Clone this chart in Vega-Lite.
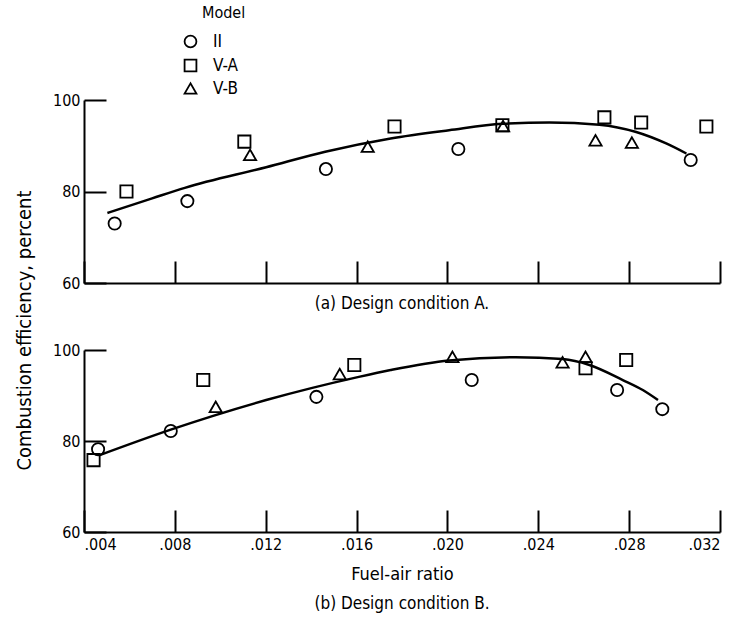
{
  "$schema": "https://vega.github.io/schema/vega-lite/v6.json",
  "padding": {"left": 14, "top": 5, "right": 5, "bottom": 5},
  "bounds": "flush",
  "spacing": 67,
  "background": "white",
  "config": {
    "font": "Liberation Sans Narrow, DejaVu Sans Condensed, Open Sans, sans-serif",
    "view": {"stroke": null},
    "axis": {
      "grid": false,
      "domainColor": "black",
      "domainWidth": 2,
      "tickColor": "black",
      "tickWidth": 2,
      "tickSize": -22,
      "labelPadding": 26,
      "labelColor": "black",
      "labelFontSize": 16,
      "titleColor": "black",
      "titleFontSize": 18,
      "titleFontWeight": "normal"
    },
    "title": {"fontSize": 17, "fontWeight": "normal", "color": "black", "anchor": "middle", "orient": "bottom"},
    "legend": {"labelFontSize": 17, "titleFontSize": 16, "titleFontWeight": "normal", "labelColor": "black", "titleColor": "black"}
  },
  "datasets": {
    "curveA": [
      {"x": 0.00503, "y": 75.3},
      {"x": 0.0070, "y": 78.5},
      {"x": 0.00844, "y": 80.8},
      {"x": 0.01202, "y": 85.3},
      {"x": 0.01462, "y": 88.7},
      {"x": 0.0175, "y": 91.6},
      {"x": 0.02007, "y": 93.4},
      {"x": 0.02242, "y": 94.8},
      {"x": 0.02449, "y": 95.1},
      {"x": 0.02669, "y": 94.6},
      {"x": 0.02831, "y": 93.0},
      {"x": 0.02963, "y": 90.5},
      {"x": 0.03052, "y": 88.3}
    ],
    "pointsA": [
      {"x": 0.00535, "y": 73.0, "model": "II"},
      {"x": 0.00587, "y": 80.0, "model": "V-A"},
      {"x": 0.00855, "y": 77.9, "model": "II"},
      {"x": 0.01106, "y": 90.9, "model": "V-A"},
      {"x": 0.01131, "y": 88.0, "model": "V-B"},
      {"x": 0.01465, "y": 84.9, "model": "II"},
      {"x": 0.01649, "y": 89.8, "model": "V-B"},
      {"x": 0.01767, "y": 94.2, "model": "V-A"},
      {"x": 0.02048, "y": 89.3, "model": "II"},
      {"x": 0.02242, "y": 94.5, "model": "V-A"},
      {"x": 0.02245, "y": 94.3, "model": "V-B"},
      {"x": 0.02691, "y": 96.2, "model": "V-A"},
      {"x": 0.02652, "y": 91.2, "model": "V-B"},
      {"x": 0.02853, "y": 95.1, "model": "V-A"},
      {"x": 0.02812, "y": 90.7, "model": "V-B"},
      {"x": 0.03071, "y": 86.9, "model": "II"},
      {"x": 0.03140, "y": 94.2, "model": "V-A"}
    ],
    "curveB": [
      {"x": 0.00469, "y": 76.9},
      {"x": 0.00782, "y": 82.5},
      {"x": 0.01202, "y": 89.0},
      {"x": 0.01610, "y": 94.1},
      {"x": 0.0175, "y": 95.6},
      {"x": 0.02007, "y": 97.7},
      {"x": 0.02301, "y": 98.4},
      {"x": 0.02507, "y": 98.0},
      {"x": 0.02625, "y": 96.7},
      {"x": 0.02772, "y": 93.4},
      {"x": 0.02860, "y": 91.2},
      {"x": 0.02927, "y": 89.0}
    ],
    "pointsB": [
      {"x": 0.00442, "y": 75.8, "model": "V-A"},
      {"x": 0.00462, "y": 78.2, "model": "II"},
      {"x": 0.00782, "y": 82.2, "model": "II"},
      {"x": 0.00925, "y": 93.4, "model": "V-A"},
      {"x": 0.00980, "y": 87.5, "model": "V-B"},
      {"x": 0.01423, "y": 89.7, "model": "II"},
      {"x": 0.01526, "y": 94.7, "model": "V-B"},
      {"x": 0.01590, "y": 96.7, "model": "V-A"},
      {"x": 0.02022, "y": 98.5, "model": "V-B"},
      {"x": 0.02107, "y": 93.4, "model": "II"},
      {"x": 0.02507, "y": 97.3, "model": "V-B"},
      {"x": 0.02608, "y": 98.5, "model": "V-B"},
      {"x": 0.02608, "y": 96.0, "model": "V-A"},
      {"x": 0.02787, "y": 97.8, "model": "V-A"},
      {"x": 0.02747, "y": 91.2, "model": "II"},
      {"x": 0.02946, "y": 87.0, "model": "II"}
    ]
  },
  "vconcat": [
    {
      "width": 636,
      "height": 183,
      "title": {"text": "(a) Design condition A.", "offset": 5},
      "layer": [
        {
          "data": {"name": "curveA"},
          "mark": {"type": "line", "interpolate": "monotone", "color": "black", "strokeWidth": 2.5},
          "encoding": {
            "x": {"field": "x", "type": "quantitative", "scale": {"domain": [0.004, 0.032], "nice": false, "zero": false},
                  "axis": {"values": [0.004, 0.008, 0.012, 0.016, 0.02, 0.024, 0.028, 0.032], "labels": false, "title": null}},
            "y": {"field": "y", "type": "quantitative", "scale": {"domain": [60, 100], "nice": false, "zero": false},
                  "axis": {"values": [60, 80, 100], "title": null}}
          }
        },
        {
          "data": {"name": "pointsA"},
          "mark": {"type": "point", "filled": false, "size": 150, "strokeWidth": 1.8, "opacity": 1, "color": "black"},
          "encoding": {
            "x": {"field": "x", "type": "quantitative"},
            "y": {"field": "y", "type": "quantitative"},
            "shape": {"field": "model", "type": "nominal", "title": "Model",
                      "scale": {"domain": ["II", "V-A", "V-B"], "range": ["circle", "square", "triangle-up"]},
                      "legend": {"orient": "none", "legendX": 118, "legendY": -95, "titleAnchor": "start", "symbolOffset": -20, "titlePadding": 12, "rowPadding": 3, "labelOffset": 14, "symbolStrokeColor": "black", "symbolStrokeWidth": 1.8, "symbolSize": 140}}
          }
        }
      ]
    },
    {
      "width": 636,
      "height": 182,
      "title": {"text": "(b) Design condition B.", "offset": 13},
      "layer": [
        {
          "data": {"name": "curveB"},
          "mark": {"type": "line", "interpolate": "monotone", "color": "black", "strokeWidth": 2.5},
          "encoding": {
            "x": {"field": "x", "type": "quantitative", "scale": {"domain": [0.004, 0.032], "nice": false, "zero": false},
                  "axis": {"values": [0.004, 0.008, 0.012, 0.016, 0.02, 0.024, 0.028, 0.032], "labelExpr": "substring(format(datum.value, '.3f'), 1)", "title": "Fuel-air ratio", "titlePadding": 13}},
            "y": {"field": "y", "type": "quantitative", "scale": {"domain": [60, 100], "nice": false, "zero": false},
                  "axis": {"values": [60, 80, 100], "title": "Combustion efficiency, percent", "titleFontSize": 20, "titleY": -20, "titlePadding": 18}}
          }
        },
        {
          "data": {"name": "pointsB"},
          "mark": {"type": "point", "filled": false, "size": 150, "strokeWidth": 1.8, "opacity": 1, "color": "black"},
          "encoding": {
            "x": {"field": "x", "type": "quantitative"},
            "y": {"field": "y", "type": "quantitative"},
            "shape": {"field": "model", "type": "nominal", "title": "Model",
                      "scale": {"domain": ["II", "V-A", "V-B"], "range": ["circle", "square", "triangle-up"]}}
          }
        }
      ]
    }
  ]
}
